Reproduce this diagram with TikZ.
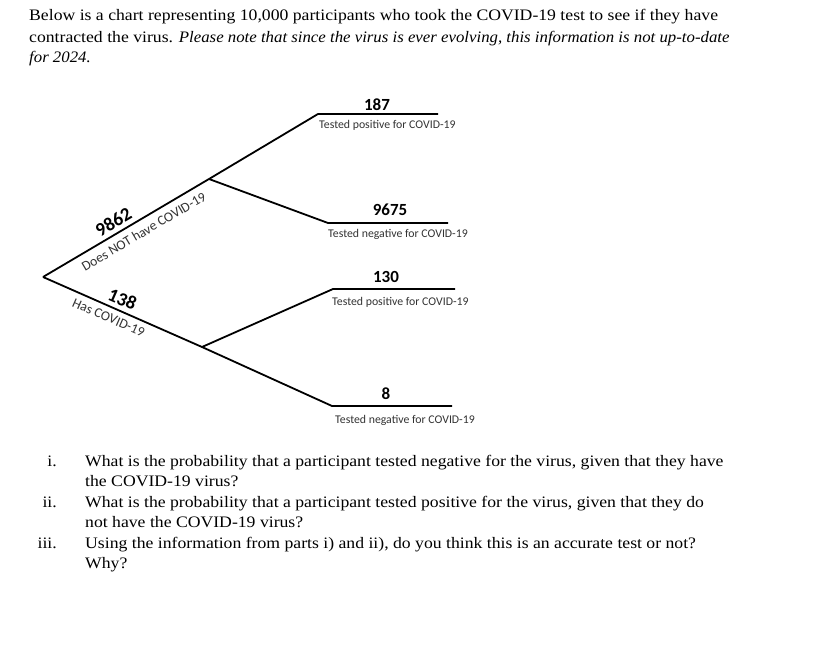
\documentclass[tikz,border=0pt]{standalone}
\usepackage{fontspec}
\setmainfont{Liberation Serif}[FakeStretch=1.105, ItalicFeatures={FakeStretch=1.05}]
\newfontfamily\carl{Carlito}
\begin{document}
\begin{tikzpicture}[x=1pt,y=-1pt,
  branch/.style={line width=1.8pt},
  txt/.style={font=\fontsize{16}{20}\selectfont, inner sep=0pt, anchor=base west},
  qnum/.style={font=\fontsize{16}{20}\selectfont, inner sep=0pt, anchor=base east},
  rnum/.style={font=\carl\bfseries\fontsize{17}{17}\selectfont, inner sep=0pt},
  lnum/.style={font=\carl\bfseries\fontsize{19}{19}\selectfont, inner sep=0pt},
  sub/.style={font=\carl\fontsize{11.8}{12}\selectfont, inner sep=0pt, text=black!80, anchor=base west},
  lsub/.style={font=\carl\fontsize{13.7}{14}\selectfont, inner sep=0pt, text=black!80}]
\useasboundingbox (0,0) rectangle (828,666);
\fill[white] (0,0) rectangle (828,666);

% header
\node[txt] (h1) at (29,21) {Below is a chart representing 10,000 participants who took the COVID-19 test to see if they have};
\node[txt] (h2) at (29,42.5) {contracted the virus. \textit{Please note that since the virus is ever evolving, this information is not up-to-date}};
\node[txt] (h3) at (29,63) {\textit{for 2024.}};

% tree coordinates
\coordinate (root) at (43,277);
\coordinate (A) at (209,179);
\coordinate (B) at (202,347);
\coordinate (p1s) at (318,114);
\coordinate (p1e) at (438,114);
\coordinate (p2s) at (328,223);
\coordinate (p2e) at (448,223);
\coordinate (p3s) at (333,289);
\coordinate (p3e) at (455,289);
\coordinate (p4s) at (332,406);
\coordinate (p4e) at (452,406);

% branches
\draw[branch, line join=miter] (root) -- (A) -- (p1s) -- (p1e);
\draw[branch] (A) -- (p2s) -- (p2e);
\draw[branch, line join=miter] (p3e) -- (p3s) -- (B) -- (root);
\draw[branch] (B) -- (p4s) -- (p4e);

% left labels
\path (root) -- node[lnum, sloped, pos=0.46, above=5pt] (n9862) {9862} (A);
\path (root) -- node[lsub, sloped, pos=0.57, below=7pt] (tnot) {Does NOT have COVID-19} (A);
\path (root) -- node[lnum, sloped, pos=0.47, above=5pt] (n138) {138} (B);
\path (root) -- node[lsub, sloped, pos=0.44, below=6pt] (thas) {Has COVID-19} (B);

% right labels
\node[rnum, anchor=base] (n187) at (377,111) {187};
\node[sub] (t187) at (319,129) {Tested positive for COVID-19};
\node[rnum, anchor=base] (n9675) at (390,215) {9675};
\node[sub] (t9675) at (328,237) {Tested negative for COVID-19};
\node[rnum, anchor=base] (n130) at (386,282) {130};
\node[sub] (t130) at (332,305) {Tested positive for COVID-19};
\node[rnum, anchor=base] (n8) at (386,399) {8};
\node[sub] (t8) at (335,423) {Tested negative for COVID-19};

% questions
\node[qnum] (q1n) at (57,466) {i.};
\node[txt] (q1a) at (85,466) {What is the probability that a participant tested negative for the virus, given that they have};
\node[txt] (q1b) at (85,486.5) {the COVID-19 virus?};
\node[qnum] (q2n) at (57,507) {ii.};
\node[txt] (q2a) at (85,507) {What is the probability that a participant tested positive for the virus, given that they do};
\node[txt] (q2b) at (85,527.5) {not have the COVID-19 virus?};
\node[qnum] (q3n) at (57,548) {iii.};
\node[txt] (q3a) at (85,548) {Using the information from parts i) and ii), do you think this is an accurate test or not?};
\node[txt] (q3b) at (85,568) {Why?};
\end{tikzpicture}
\end{document}
